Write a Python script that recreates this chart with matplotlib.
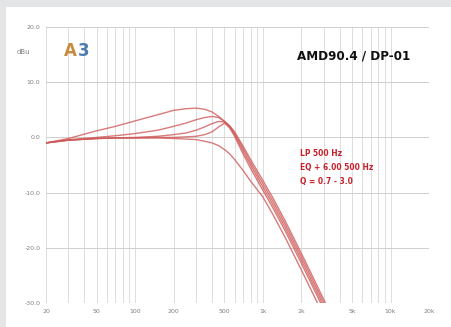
import numpy as np
import matplotlib
matplotlib.use("Agg")
import matplotlib.pyplot as plt
from matplotlib.patches import Rectangle

# frequency points (Hz)
freq = [20, 30, 50, 70, 100, 150, 200, 250, 300, 350, 400, 450, 500,
        550, 600, 700, 800, 1000, 1200, 1500, 2000, 2500, 3000, 3500]

# response curves (dB), widest EQ first, plain low pass last
curve_q07 = [-1.0, -0.2, 1.2, 2.0, 3.0, 4.1, 4.9, 5.2, 5.3, 5.1, 4.6, 3.8, 2.9,
             2.1, 1.0, -1.6, -4.0, -7.8, -11.0, -15.2, -21.0, -25.6, -29.4, -32.5]
curve_q10 = [-1.0, -0.4, 0.0, 0.3, 0.7, 1.3, 2.0, 2.6, 3.2, 3.6, 3.8, 3.6, 2.9,
             2.0, 0.8, -2.0, -4.5, -8.4, -11.6, -15.8, -21.6, -26.2, -30.0, -33.1]
curve_q20 = [-1.0, -0.5, -0.2, -0.1, 0.0, 0.2, 0.5, 0.8, 1.3, 1.9, 2.5, 2.9, 2.8,
             1.9, 0.5, -2.5, -5.0, -9.0, -12.2, -16.4, -22.2, -26.8, -30.6, -33.7]
curve_q30 = [-1.0, -0.5, -0.2, -0.1, -0.1, 0.0, 0.0, 0.1, 0.2, 0.5, 1.0, 1.9, 2.6,
             1.7, 0.2, -3.0, -5.6, -9.6, -12.8, -17.0, -22.8, -27.4, -31.2, -34.3]
curve_lp = [-1.0, -0.5, -0.2, -0.1, -0.1, -0.1, -0.2, -0.3, -0.4, -0.7, -1.0, -1.5, -2.2,
            -3.0, -4.0, -6.0, -7.9, -10.8, -14.0, -18.2, -24.0, -28.6, -32.4, -35.5]

curves = [curve_q07, curve_q10, curve_q20, curve_q30, curve_lp]

xticks = [20, 50, 100, 200, 500, 1000, 2000, 5000, 10000, 20000]
xlabels = ["20", "50", "100", "200", "500", "1k", "2k", "5k", "10k", "20k"]
yticks = [-30, -20, -10, 0, 10, 20]
ylabels = ["-30.0", "-20.0", "-10.0", "0.0", "10.0", "20.0"]

title = "AMD90.4 / DP-01"
notes = ["LP 500 Hz", "EQ + 6.00 500 Hz", "Q = 0.7 - 3.0"]

fig = plt.figure(figsize=(4.52, 3.27), dpi=100)
fig.patch.set_facecolor("#e4e5e7")
fig.patches.append(Rectangle((6 / 452, 0), 1, 1 - 7 / 327, transform=fig.transFigure,
                             facecolor="white", edgecolor="none", zorder=-10))

ax = fig.add_axes([46 / 452, 1 - 303 / 327, 383 / 452, 276 / 327])
ax.set_facecolor("none")
ax.set_xscale("log")
ax.set_xlim(20, 20000)
ax.set_ylim(-30, 20)

for c in curves:
    ax.plot(freq, c, color="#cf5a5a", lw=1.0, alpha=0.8, zorder=3)

ax.set_xticks(xticks)
ax.set_xticklabels(xlabels)
ax.set_yticks(yticks)
ax.set_yticklabels(ylabels)
ax.xaxis.set_minor_locator(matplotlib.ticker.LogLocator(base=10, subs=np.arange(2, 10)))
ax.xaxis.set_minor_formatter(matplotlib.ticker.NullFormatter())
ax.tick_params(axis="both", which="both", length=0, labelsize=4.5, colors="#808080", pad=4)
ax.grid(True, which="both", axis="x", color="#d8d8d8", lw=0.6)
ax.grid(True, which="major", axis="y", color="#cfcfcf", lw=0.7)
for s in ax.spines.values():
    s.set_visible(False)

fig.text(23 / 452, 1 - 52 / 327, "dBu", fontsize=5, color="#808080", ha="center", va="center")

# logo
fig.text(64 / 452, 1 - 51 / 327, "A", fontsize=12, fontweight="bold", color="#c98b3c",
         ha="left", va="center")
fig.text(78 / 452, 1 - 51 / 327, "3", fontsize=12, fontweight="bold", color="#4d7db0",
         ha="left", va="center")

fig.text(354 / 452, 1 - 56 / 327, title, fontsize=9.5, fontweight="heavy", color="#111111",
         ha="center", va="center", fontstretch="condensed")

for i, t in enumerate(notes):
    fig.text(300 / 452, 1 - (154 + 13.5 * i) / 327, t, fontsize=6, fontweight="bold",
             color="#c8202a", ha="left", va="center", fontstretch="condensed")

fig.savefig("out.png", dpi=100)
